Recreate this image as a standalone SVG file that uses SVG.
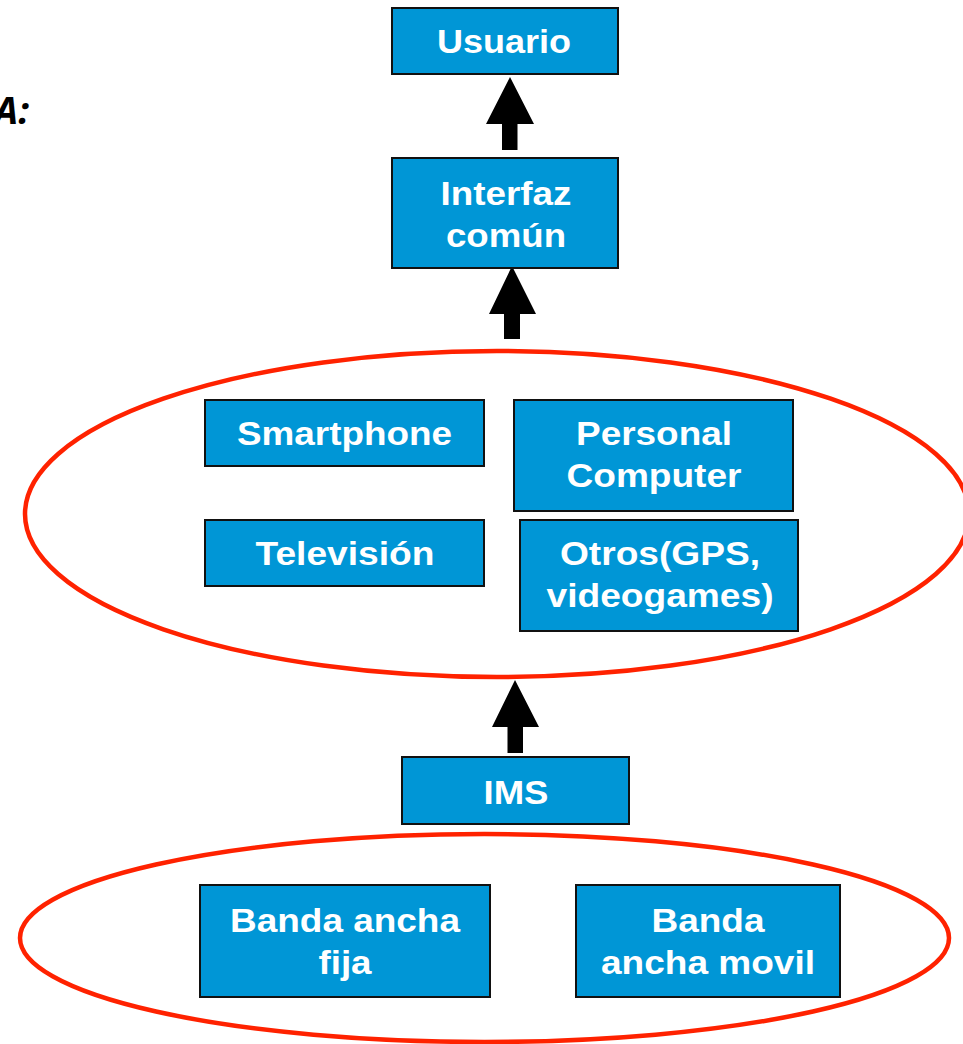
<svg xmlns="http://www.w3.org/2000/svg" width="963" height="1044" viewBox="0 0 963 1044">
<style>
.box{fill:#0096D6;stroke:#111;stroke-width:2}
.lbl{font-family:"Liberation Sans",Arial,sans-serif;font-weight:bold;font-size:34px;fill:#fff;text-anchor:middle}
.grp{fill:none;stroke:#FF2200;stroke-width:4.5}
.arr{fill:#000}
</style>
<rect width="963" height="1044" fill="#fff"/>
<text x="29" y="124" font-family="'Open Sans',sans-serif" font-weight="bold" font-style="italic" font-size="38" fill="#000" text-anchor="end">A:</text>
<ellipse id="grupo-dispositivos" class="grp" cx="497" cy="514" rx="472" ry="163"/>
<ellipse id="grupo-banda" class="grp" cx="484.5" cy="938" rx="464.5" ry="104"/>
<g id="connectors">
<polygon class="arr" points="510,77 534,124 517.5,124 517.5,150 502,150 502,124 486,124"/>
<polygon class="arr" points="512,266 536,314 520,314 520,339 504,339 504,314 489,314"/>
<polygon class="arr" points="515,680 539,727 523,727 523,753 507.5,753 507.5,727 492,727"/>
</g>
<g id="usuario"><rect class="box" x="392" y="8" width="226" height="66"/><text class="lbl" x="504" y="53" textLength="134" lengthAdjust="spacingAndGlyphs">Usuario</text></g>
<g id="interfaz"><rect class="box" x="392" y="158" width="226" height="110"/><text class="lbl" x="506" y="205" textLength="131" lengthAdjust="spacingAndGlyphs">Interfaz</text><text class="lbl" x="506" y="247" textLength="120" lengthAdjust="spacingAndGlyphs">común</text></g>
<g id="smartphone"><rect class="box" x="205" y="400" width="279" height="66"/><text class="lbl" x="344.5" y="445" textLength="215" lengthAdjust="spacingAndGlyphs">Smartphone</text></g>
<g id="pc"><rect class="box" x="514" y="400" width="279" height="111"/><text class="lbl" x="654" y="445" textLength="156" lengthAdjust="spacingAndGlyphs">Personal</text><text class="lbl" x="654" y="487" textLength="175" lengthAdjust="spacingAndGlyphs">Computer</text></g>
<g id="television"><rect class="box" x="205" y="520" width="279" height="66"/><text class="lbl" x="345" y="565" textLength="179" lengthAdjust="spacingAndGlyphs">Televisión</text></g>
<g id="otros"><rect class="box" x="520" y="520" width="278" height="111"/><text class="lbl" x="660" y="565" textLength="200" lengthAdjust="spacingAndGlyphs">Otros(GPS,</text><text class="lbl" x="660" y="607" textLength="227" lengthAdjust="spacingAndGlyphs">videogames)</text></g>
<g id="ims"><rect class="box" x="402" y="757" width="227" height="67"/><text class="lbl" x="516" y="804" textLength="65" lengthAdjust="spacingAndGlyphs">IMS</text></g>
<g id="banda-fija"><rect class="box" x="200" y="885" width="290" height="112"/><text class="lbl" x="345" y="932" textLength="230" lengthAdjust="spacingAndGlyphs">Banda ancha</text><text class="lbl" x="345" y="974" textLength="53" lengthAdjust="spacingAndGlyphs">fija</text></g>
<g id="banda-movil"><rect class="box" x="576" y="885" width="264" height="112"/><text class="lbl" x="708" y="932" textLength="113" lengthAdjust="spacingAndGlyphs">Banda</text><text class="lbl" x="708" y="974" textLength="214" lengthAdjust="spacingAndGlyphs">ancha movil</text></g>
</svg>
